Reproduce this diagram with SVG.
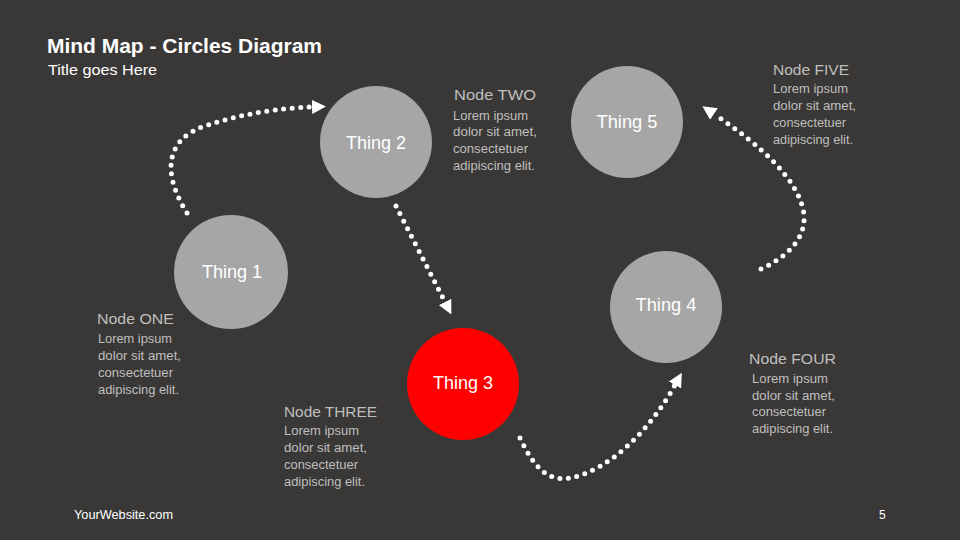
<svg xmlns="http://www.w3.org/2000/svg" width="960" height="540" viewBox="0 0 960 540">
<style>
.bg{fill:#3a3836}
.c{fill:#a6a6a6}
.red{fill:#ff0000}
.lbl{font-family:"Liberation Sans",Arial,sans-serif;font-size:18px;fill:#ffffff;text-anchor:middle}
.hd{font-family:"Liberation Sans",Arial,sans-serif;font-size:15px;fill:#bfbfbf}
.lo{font-family:"Liberation Sans",Arial,sans-serif;font-size:12.5px;fill:#bfbfbf}
.tt{font-family:"Liberation Sans",Arial,sans-serif;font-weight:bold;font-size:20px;fill:#ffffff}
.st{font-family:"Liberation Sans",Arial,sans-serif;font-size:15px;fill:#ffffff}
.ft{font-family:"Liberation Sans",Arial,sans-serif;font-size:12px;fill:#ffffff}
.dot{fill:none;stroke:#ffffff;stroke-width:5;stroke-dasharray:0 8.5;stroke-linecap:round;marker-end:url(#arr)}
</style>
<defs>
<marker id="arr" viewBox="0 0 14 14" refX="0" refY="7" markerWidth="14" markerHeight="14" markerUnits="userSpaceOnUse" orient="auto">
<path d="M0,0 L14,7 L0,14 z" fill="#ffffff"/>
</marker>
</defs>
<rect class="bg" x="0" y="0" width="960" height="540"/>
<text class="tt" x="47" y="53" textLength="275" lengthAdjust="spacingAndGlyphs">Mind Map - Circles Diagram</text>
<text class="st" x="48" y="75" textLength="109" lengthAdjust="spacingAndGlyphs">Title goes Here</text>

<g id="connectors">
<path class="dot" d="M187,213 C160,170 168,138 205,126 C240,114 280,108 312,107"/>
<path class="dot" d="M396,206 L445,302"/>
<path class="dot" d="M520,438 C535,470 550,482 570,478 C610,470 650,430 675,385"/>
<path class="dot" d="M761,269 C785,258 806,240 804,215 C800,180 760,145 714,114"/>
</g>

<g id="thing1">
<circle class="c" cx="231" cy="272" r="57"/>
<text class="lbl" x="232" y="278" textLength="60" lengthAdjust="spacingAndGlyphs">Thing 1</text>
</g>
<g id="thing2">
<circle class="c" cx="376" cy="142" r="56"/>
<text class="lbl" x="376" y="149" textLength="60" lengthAdjust="spacingAndGlyphs">Thing 2</text>
</g>
<g id="thing3">
<circle class="red" cx="463" cy="384" r="56"/>
<text class="lbl" x="463" y="389" textLength="60" lengthAdjust="spacingAndGlyphs">Thing 3</text>
</g>
<g id="thing4">
<circle class="c" cx="666" cy="307" r="56"/>
<text class="lbl" x="666" y="311" textLength="61" lengthAdjust="spacingAndGlyphs">Thing 4</text>
</g>
<g id="thing5">
<circle class="c" cx="627" cy="122" r="56"/>
<text class="lbl" x="627" y="128" textLength="61" lengthAdjust="spacingAndGlyphs">Thing 5</text>
</g>

<g id="node-one">
<text class="hd" x="97" y="324" textLength="77" lengthAdjust="spacingAndGlyphs">Node ONE</text>
<text class="lo" x="98" y="343" textLength="74" lengthAdjust="spacingAndGlyphs">Lorem ipsum</text>
<text class="lo" x="98" y="360" textLength="83" lengthAdjust="spacingAndGlyphs">dolor sit amet,</text>
<text class="lo" x="98" y="377" textLength="75" lengthAdjust="spacingAndGlyphs">consectetuer</text>
<text class="lo" x="98" y="394" textLength="81" lengthAdjust="spacingAndGlyphs">adipiscing elit.</text>
</g>
<g id="node-two">
<text class="hd" x="454" y="100" textLength="82" lengthAdjust="spacingAndGlyphs">Node TWO</text>
<text class="lo" x="453" y="120" textLength="75" lengthAdjust="spacingAndGlyphs">Lorem ipsum</text>
<text class="lo" x="453" y="136" textLength="84" lengthAdjust="spacingAndGlyphs">dolor sit amet,</text>
<text class="lo" x="453" y="153" textLength="75" lengthAdjust="spacingAndGlyphs">consectetuer</text>
<text class="lo" x="453" y="170" textLength="82" lengthAdjust="spacingAndGlyphs">adipiscing elit.</text>
</g>
<g id="node-three">
<text class="hd" x="284" y="417" textLength="93" lengthAdjust="spacingAndGlyphs">Node THREE</text>
<text class="lo" x="284" y="435" textLength="75" lengthAdjust="spacingAndGlyphs">Lorem ipsum</text>
<text class="lo" x="284" y="452" textLength="83" lengthAdjust="spacingAndGlyphs">dolor sit amet,</text>
<text class="lo" x="284" y="469" textLength="74" lengthAdjust="spacingAndGlyphs">consectetuer</text>
<text class="lo" x="284" y="486" textLength="81" lengthAdjust="spacingAndGlyphs">adipiscing elit.</text>
</g>
<g id="node-four">
<text class="hd" x="749" y="364" textLength="87" lengthAdjust="spacingAndGlyphs">Node FOUR</text>
<text class="lo" x="752" y="383" textLength="76" lengthAdjust="spacingAndGlyphs">Lorem ipsum</text>
<text class="lo" x="752" y="400" textLength="83" lengthAdjust="spacingAndGlyphs">dolor sit amet,</text>
<text class="lo" x="752" y="416" textLength="74" lengthAdjust="spacingAndGlyphs">consectetuer</text>
<text class="lo" x="752" y="433" textLength="81" lengthAdjust="spacingAndGlyphs">adipiscing elit.</text>
</g>
<g id="node-five">
<text class="hd" x="773" y="75" textLength="76" lengthAdjust="spacingAndGlyphs">Node FIVE</text>
<text class="lo" x="773" y="93" textLength="75" lengthAdjust="spacingAndGlyphs">Lorem ipsum</text>
<text class="lo" x="773" y="110" textLength="83" lengthAdjust="spacingAndGlyphs">dolor sit amet,</text>
<text class="lo" x="773" y="127" textLength="73" lengthAdjust="spacingAndGlyphs">consectetuer</text>
<text class="lo" x="773" y="144" textLength="80" lengthAdjust="spacingAndGlyphs">adipiscing elit.</text>
</g>

<text class="ft" x="74" y="519" textLength="99" lengthAdjust="spacingAndGlyphs">YourWebsite.com</text>
<text class="ft" x="879" y="519">5</text>
</svg>
